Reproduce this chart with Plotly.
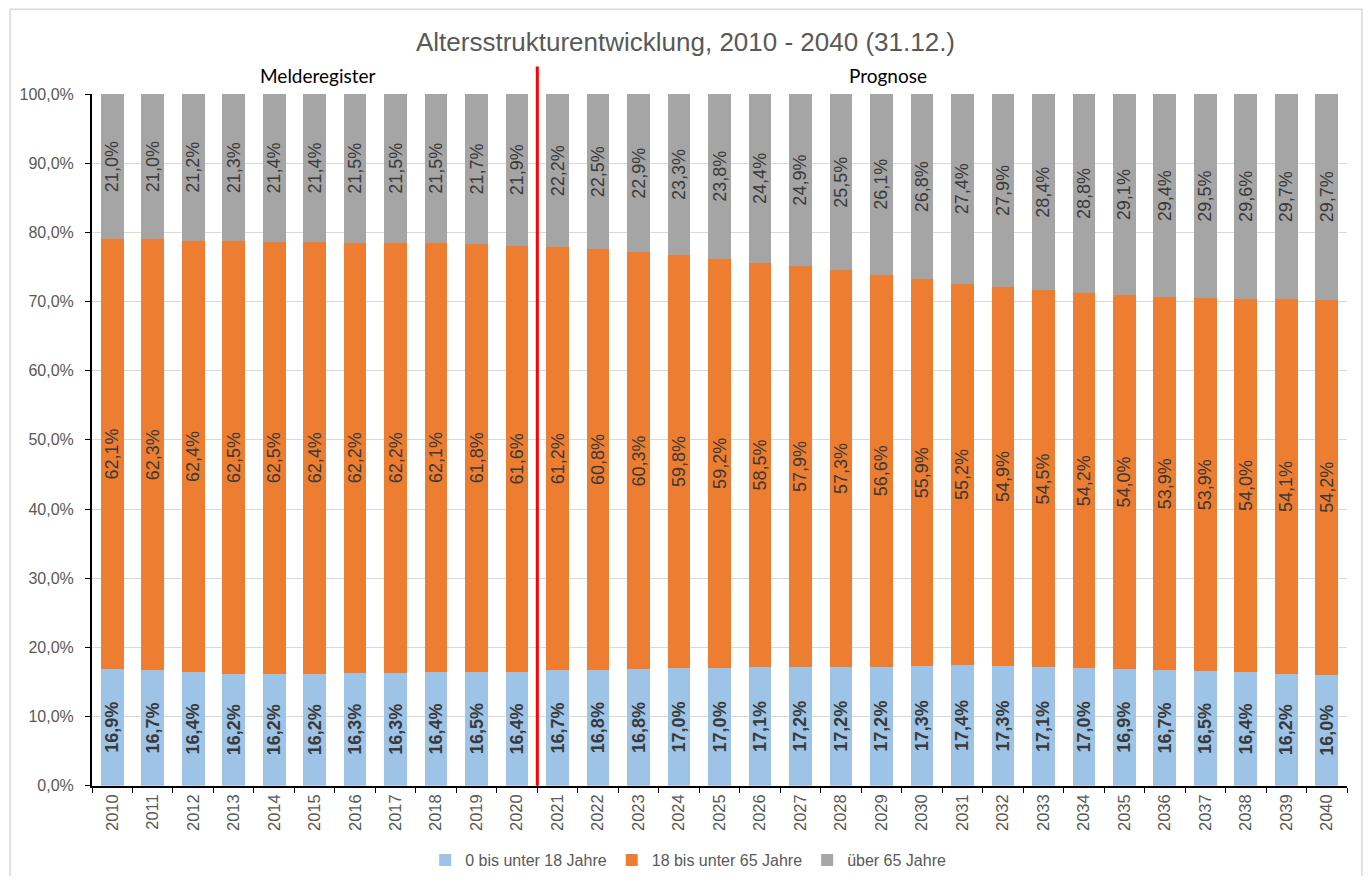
import plotly.graph_objects as go

years = [str(y) for y in range(2010, 2041)]
jung = [16.9, 16.7, 16.4, 16.2, 16.2, 16.2, 16.3, 16.3, 16.4, 16.5, 16.4,
        16.7, 16.8, 16.8, 17.0, 17.0, 17.1, 17.2, 17.2, 17.2, 17.3, 17.4,
        17.3, 17.1, 17.0, 16.9, 16.7, 16.5, 16.4, 16.2, 16.0]
mittel = [62.1, 62.3, 62.4, 62.5, 62.5, 62.4, 62.2, 62.2, 62.1, 61.8, 61.6,
          61.2, 60.8, 60.3, 59.8, 59.2, 58.5, 57.9, 57.3, 56.6, 55.9, 55.2,
          54.9, 54.5, 54.2, 54.0, 53.9, 53.9, 54.0, 54.1, 54.2]
alt = [21.0, 21.0, 21.2, 21.3, 21.4, 21.4, 21.5, 21.5, 21.5, 21.7, 21.9,
       22.2, 22.5, 22.9, 23.3, 23.8, 24.4, 24.9, 25.5, 26.1, 26.8, 27.4,
       27.9, 28.4, 28.8, 29.1, 29.4, 29.5, 29.6, 29.7, 29.7]
names = ["0 bis unter 18 Jahre", "18 bis unter 65 Jahre", "über 65 Jahre"]
colors = ["#9DC3E6", "#ED7D31", "#A5A5A5"]

W, H = 1355, 868
FONT = "Liberation Sans, Arial, sans-serif"


def fmt(v):
    return f"{v:.1f}".replace(".", ",") + "%"


fig = go.Figure()
for vals, name, col, bold in zip([jung, mittel, alt], names, colors, [True, False, False]):
    fig.add_trace(go.Bar(
        x=years, y=vals, name=name,
        marker=dict(color=col, line=dict(width=0)),
        text=[fmt(v) for v in vals],
        textposition="inside",
        insidetextanchor="middle",
        textangle=-90,
        constraintext="none",
        insidetextfont=dict(family=FONT, size=18,
                            color="#3A3A3A", weight="bold" if bold else "normal"),
        hoverinfo="skip",
    ))

fig.update_layout(
    width=W, height=H,
    barmode="stack", barnorm="percent", bargap=0.44,
    paper_bgcolor="white", plot_bgcolor="white",
    separators=",.",
    margin=dict(l=83, r=16, t=86, b=88),
    font=dict(family=FONT, color="#595959"),
    title=dict(text="Altersstrukturentwicklung, 2010 - 2040 (31.12.)",
               x=0.5, xref="container", xanchor="center",
               y=1 - 34 / H, yref="container", yanchor="middle",
               font=dict(size=26, color="#595959")),
    legend=dict(orientation="h", x=0.502, xref="container", xanchor="center",
                y=1 - 852 / H, yref="container", yanchor="middle",
                font=dict(size=16, color="#595959"), traceorder="normal",
                itemwidth=30, bgcolor="rgba(0,0,0,0)"),
    xaxis=dict(type="category", tickangle=-90, ticks="outside", tickson="boundaries",
               ticklen=5, tickcolor="black", showline=True, linecolor="black",
               linewidth=2, tickfont=dict(size=16.5, color="#595959"),
               showgrid=False),
    yaxis=dict(range=[0, 100], dtick=10, tickformat=".1f", ticksuffix="%",
               ticks="outside", ticklen=5, tickcolor="black", showline=True,
               linecolor="black", linewidth=2, gridcolor="#D9D9D9", gridwidth=1,
               ticklabelstandoff=8,
               tickfont=dict(size=16, color="#595959")),
    showlegend=True,
)

# outer chart border
fig.add_shape(type="rect", xref="paper", yref="paper",
              x0=-0.0653, x1=1.0119, y0=-0.3, y1=1.1225,
              line=dict(color="#D9D9D9", width=1.5), layer="below")
# separator line between register data and forecast
fig.add_shape(type="line", xref="x", yref="paper", x0=10.5, x1=10.5,
              y0=0, y1=1.0397, line=dict(color="#FF0000", width=3))

fig.add_annotation(text="Melderegister", xref="paper", yref="paper",
                   x=0.1799, y=1.0267, xanchor="center", yanchor="middle",
                   showarrow=False,
                   font=dict(family="Lato, Carlito, sans-serif", size=19, color="#000000"))
fig.add_annotation(text="Prognose", xref="paper", yref="paper",
                   x=0.6346, y=1.0267, xanchor="center", yanchor="middle",
                   showarrow=False,
                   font=dict(family="Lato, Carlito, sans-serif", size=19, color="#000000"))

fig.write_html("out.html")
